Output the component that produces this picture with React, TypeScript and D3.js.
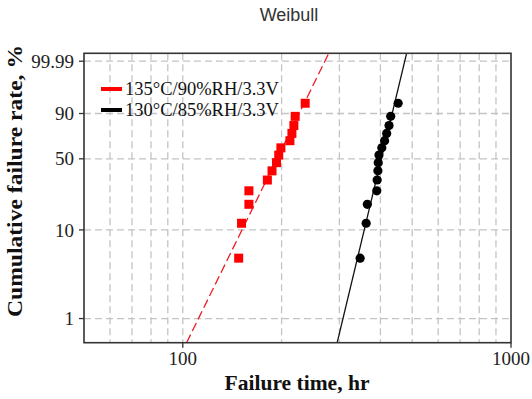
import React from 'react';
import * as d3 from 'd3';

// failure times (hr) for each test condition, ordered by rank
const redTimes = [148, 151, 159, 159, 181, 187, 193, 196, 199, 212, 215, 218, 220, 236];
const blackTimes = [347, 362, 365, 390, 391, 393, 394, 396, 404, 412, 418, 425, 430, 453];
// cumulative failure (%) for each rank (median ranks, n = 14)
const ranks = [4.86, 11.81, 18.75, 25.69, 32.64, 39.58, 46.53, 53.47, 60.42, 67.36, 74.31, 81.25, 88.19, 95.14];

// weibull fit lines: shape (beta) and scale (eta, hr)
const redFit = { beta: 7.69, eta: 203 };
const blackFit = { beta: 15.75, eta: 412 };

const yTicks = [1, 10, 50, 90, 99.99];
const yTickLabels = ['1', '10', '50', '90', '99.99'];
const xGrid = [60, 70, 80, 90, 100, 200, 300, 400, 500, 600, 700, 800, 900];
const xTicks = [100, 1000];

const legendLabels = ['135°C/90%RH/3.3V', '130°C/85%RH/3.3V'];

const W = 532;
const H = 399;
const L = 84, R = 511, T = 53.3, B = 342.7;

const wb = (p: number) => Math.log(-Math.log(1 - p / 100));

const App = () => {
  const x = d3.scaleLog().domain([50, 1000]).range([L, R]);
  const y = d3.scaleLinear().domain([-5.24, 2.43]).range([B, T]);

  const fitLine = (f: { beta: number; eta: number }) => {
    const [w0, w1] = y.domain();
    const pts: [number, number][] = [w0, w1].map((w) => [f.eta * Math.exp(w / f.beta), w]);
    return d3.line<[number, number]>()
      .x((d) => x(d[0]))
      .y((d) => y(d[1]))(pts) as string;
  };

  const serif = '"Liberation Serif", "Times New Roman", serif';
  const grid = '#c4c4c4';

  return (
    <svg width={W} height={H} style={{ position: 'absolute', left: 0, top: 0, background: '#fff' }}>
      <defs>
        <clipPath id="plot">
          <rect x={L} y={T} width={R - L} height={B - T} />
        </clipPath>
      </defs>

      <text x={289} y={21} textAnchor="middle" fontFamily='"Liberation Sans", Arial, sans-serif'
        fontSize={18} fill="#333">Weibull</text>

      {/* grid */}
      {xGrid.map((v) => (
        <line key={'gx' + v} x1={x(v)} x2={x(v)} y1={T} y2={B}
          stroke={grid} strokeWidth={1.3} strokeDasharray="7,4" />
      ))}
      {yTicks.map((v) => (
        <line key={'gy' + v} x1={L} x2={R} y1={y(wb(v))} y2={y(wb(v))}
          stroke={grid} strokeWidth={1.3} strokeDasharray="7,4" />
      ))}

      {/* fit lines and points */}
      <g clipPath="url(#plot)">
        <path d={fitLine(redFit)} fill="none" stroke="#ee1c25" strokeWidth={1.3} strokeDasharray="9,4" />
        <path d={fitLine(blackFit)} fill="none" stroke="#111" strokeWidth={1.3} />
      </g>
      {redTimes.map((t, i) => (
        <rect key={'r' + i} x={x(t) - 4.5} y={y(wb(ranks[i])) - 4.5} width={9} height={9} fill="#ff0000" />
      ))}
      {blackTimes.map((t, i) => (
        <circle key={'b' + i} cx={x(t)} cy={y(wb(ranks[i]))} r={4.6} fill="#000" />
      ))}

      {/* frame */}
      <rect x={L} y={T} width={R - L} height={B - T} fill="none" stroke="#333" strokeWidth={1.6} />

      {/* y axis */}
      {yTicks.map((v, i) => (
        <g key={'yt' + v}>
          <line x1={L - 5} x2={L} y1={y(wb(v))} y2={y(wb(v))} stroke="#333" strokeWidth={1.3} />
          <text x={L - 10} y={y(wb(v))} dy="0.35em" textAnchor="end" fontFamily={serif}
            fontSize={19} fill="#222">{yTickLabels[i]}</text>
        </g>
      ))}

      {/* x axis */}
      {xTicks.map((v) => (
        <g key={'xt' + v}>
          <line x1={x(v)} x2={x(v)} y1={B} y2={B + 5} stroke="#333" strokeWidth={1.3} />
          <text x={x(v)} y={365} textAnchor="middle" fontFamily={serif} fontSize={19} fill="#222">{v}</text>
        </g>
      ))}

      <text x={297} y={390} textAnchor="middle" fontFamily={serif} fontWeight="bold" fontSize={21}
        fill="#111" textLength={145} lengthAdjust="spacingAndGlyphs">Failure time, hr</text>
      <text transform="translate(22,181) rotate(-90)" textAnchor="middle" fontFamily={serif}
        fontWeight="bold" fontSize={21} fill="#111" textLength={272} lengthAdjust="spacingAndGlyphs">
        Cumulative failure rate, %</text>

      {/* legend */}
      {legendLabels.map((s, i) => (
        <g key={'lg' + i} transform={`translate(0,${89 + i * 21})`}>
          <line x1={101} x2={122} y1={0} y2={0} stroke={i === 0 ? '#ff0000' : '#000'} strokeWidth={4} />
          <text x={125} y={6} fontFamily={serif} fontSize={18.5} fill="#111">{s}</text>
        </g>
      ))}
    </svg>
  );
};

export default App;
